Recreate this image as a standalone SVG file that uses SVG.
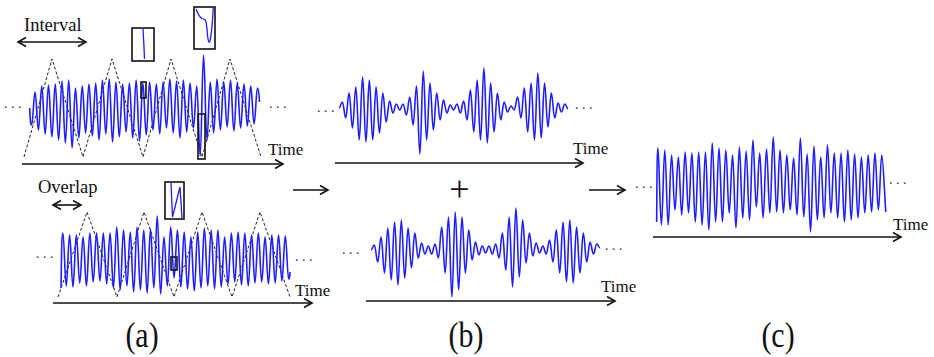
<svg xmlns="http://www.w3.org/2000/svg" width="934" height="357" viewBox="0 0 934 357">
<style>
.sig{fill:none;stroke:#1e1eff;stroke-width:1.6;vector-effect:non-scaling-stroke;stroke-linejoin:round}
.win{fill:none;stroke:#222;stroke-width:1;stroke-dasharray:3 2}
.axis{fill:none;stroke:#111;stroke-width:1.6;marker-end:url(#ah)}
.dbl{fill:none;stroke:#111;stroke-width:1.6;marker-end:url(#ah);marker-start:url(#ah)}
.box{fill:none;stroke:#111;stroke-width:1.6}
.ins{fill:none;stroke:#1e1eff;stroke-width:1.3}
.t{font-family:"Liberation Serif","Times New Roman",serif;fill:#111}
.tm{font-size:17px}
.lab{font-size:34px}
.dots{font-family:"Liberation Serif",serif;font-size:14px;fill:#333}
</style>
<defs>
<marker id="ah" markerUnits="userSpaceOnUse" markerWidth="12" markerHeight="12" refX="9" refY="5" orient="auto-start-reverse">
<path d="M1,0.5 L9,5 L1,9.5" fill="none" stroke="#111" stroke-width="1.6"/>
</marker>
</defs>
<rect width="934" height="357" fill="#fff"/>

<g id="panel-a-top">
<text class="t" x="24" y="31" font-size="18.5">Interval</text>
<line class="dbl" x1="18" y1="42" x2="86" y2="42"/>
<polyline class="win" points="24,157 52,59 83,157 112,59 143,157 171,59 202,157 230,59 261,157"/>
<g transform="translate(28.3,0) scale(3.37,1)">
<path class="sig" d="M0.4,108 C0.6,120 0.6,125 1,125 S1.6,92 2,92 S2.6,130 3,130 S3.6,86 4,86 S4.6,134 5,134 S5.6,85 6,85 S6.6,137 7,137 S7.6,84 8,84 S8.6,140 9,140 S9.6,81 10,81 S10.6,143 11,143 S11.6,80 12,80 S12.6,148 13,148 S13.6,88 14,88 S14.6,138 15,138 S15.6,86 16,86 S16.6,133 17,133 S17.6,84 18,84 S18.6,136 19,136 S19.6,83 20,83 S20.6,140 21,140 S21.6,80 22,80 S22.6,134 23,134 S23.6,79 24,79 S24.6,142 25,142 S25.6,82 26,82 S26.6,137 27,137 S27.6,84 28,84 S28.6,132 29,132 S29.6,83 30,83 S30.6,138 31,138 S31.6,80 32,80 S32.6,141 33,141 S33.6,83 34,83 S34.6,135 35,135 S35.6,82 36,82 S36.6,130 37,130 S37.6,84 38,84 S38.6,134 39,134 S39.6,82 40,82 S40.6,128 41,128 S41.6,79 42,79 S42.6,133 43,133 S43.6,81 44,81 S44.6,138 45,138 S45.6,80 46,80 S46.6,132 47,132 S47.6,83 48,83 S48.6,128 49,128 S49.6,86 50,86 S50.6,156 51,156 S51.6,55 52,55 S52.6,140 53,140 S53.6,82 54,82 S54.6,133 55,133 S55.6,79 56,79 S56.6,130 57,130 S57.6,82 58,82 S58.6,127 59,127 S59.6,80 60,80 S60.6,131 61,131 S61.6,83 62,83 S62.6,128 63,128 S63.6,84 64,84 S64.6,126 65,126 S65.6,86 66,86 S66.6,124 67,124 S67.6,88 68,88 S68.5,96 68.6,102"/>
</g>
<rect class="box" x="141" y="82" width="5" height="16"/>
<rect class="box" x="198" y="114" width="7" height="45"/>
<rect class="box" x="132" y="28" width="22" height="33"/>
<path class="ins" d="M143,29 Q144,45 144.5,59"/>
<rect class="box" x="194" y="7" width="21" height="42"/>
<path class="ins" d="M196,9 Q199,17 202,18.5 L205,19.5 Q206.5,21 207.5,35 Q208.5,45 210,41 Q212,32 213.3,8"/>
<text class="dots" x="4" y="108">. . .</text>
<text class="dots" x="269" y="108">. . .</text>
<text class="t tm" x="268" y="154.5">Time</text>
<line class="axis" x1="22" y1="164" x2="283" y2="164"/>
</g>

<g id="panel-a-bottom">
<text class="t" x="38" y="193" font-size="18.5">Overlap</text>
<line class="dbl" x1="53" y1="205" x2="81" y2="205"/>
<polyline class="win" points="58,297 87,212 117,297 144,212 174,297 202,212 232,297 260,212 290,297"/>
<g transform="translate(59.5,0) scale(3.37,1)">
<path class="sig" d="M0.45,288 C0.6,262 0.6,233 1,233 S1.6,286 2,286 S2.6,235 3,235 S3.6,287 4,287 S4.6,235 5,235 S5.6,283 6,283 S6.6,237 7,237 S7.6,286 8,286 S8.6,233 9,233 S9.6,282 10,282 S10.6,233 11,233 S11.6,281 12,281 S12.6,233 13,233 S13.6,284 14,284 S14.6,233 15,233 S15.6,288 16,288 S16.6,227 17,227 S17.6,290 18,290 S18.6,230 19,230 S19.6,286 20,286 S20.6,232 21,232 S21.6,292 22,292 S22.6,227 23,227 S23.6,290 24,290 S24.6,230 25,230 S25.6,293 26,293 S26.6,229 27,229 S27.6,288 28,288 S28.6,216 29,216 S29.6,294 30,294 S30.6,237 31,237 S31.6,286 32,286 S32.6,227 33,227 S33.6,278 34,278 S34.6,230 35,230 S35.6,287 36,287 S36.6,232 37,232 S37.6,289 38,289 S38.6,237 39,237 S39.6,291 40,291 S40.6,232 41,232 S41.6,288 42,288 S42.6,228 43,228 S43.6,286 44,286 S44.6,230 45,230 S45.6,289 46,289 S46.6,230 47,230 S47.6,287 48,287 S48.6,237 49,237 S49.6,284 50,284 S50.6,233 51,233 S51.6,282 52,282 S52.6,232 53,232 S53.6,285 54,285 S54.6,233 55,233 S55.6,286 56,286 S56.6,235 57,235 S57.6,283 58,283 S58.6,233 59,233 S59.6,282 60,282 S60.6,237 61,237 S61.6,284 62,284 S62.6,235 63,235 S63.6,283 64,283 S64.6,235 65,235 S65.6,281 66,281 S66.6,236 67,236 S67.6,279 68,279 S68.3,275 68.4,272"/>
</g>
<rect class="box" x="171" y="257" width="6" height="13"/>
<rect class="box" x="165" y="182" width="19" height="37"/>
<path class="ins" d="M171,183 L172.5,217 L180,187 L182,218"/>
<text class="dots" x="36" y="258">. . .</text>
<text class="dots" x="295" y="261">. . .</text>
<text class="t tm" x="295" y="295.5">Time</text>
<line class="axis" x1="53" y1="303" x2="312" y2="303"/>
</g>

<g id="panel-b-top">
<g transform="translate(339,0) scale(3.37,1)">
<path class="sig" d="M0,108 C0.4,108 0.6,102 1,102 S1.6,118 2,118 S2.6,93 3,93 S3.6,128 4,128 S4.6,87 5,87 S5.6,140 6,140 S6.6,77 7,77 S7.6,142 8,142 S8.6,80 9,80 S9.6,140 10,140 S10.6,87 11,87 S11.6,133 12,133 S12.6,93 13,93 S13.6,122 14,122 S14.6,101 15,101 S15.6,113 16,113 S16.6,104 17,104 S17.6,110 18,110 S18.6,104 19,104 S19.6,115 20,115 S20.6,97 21,97 S21.6,125 22,125 S22.6,86 23,86 S23.6,154 24,154 S24.6,71 25,71 S25.6,140 26,140 S26.6,83 27,83 S27.6,130 28,130 S28.6,93 29,93 S29.6,120 30,120 S30.6,100 31,100 S31.6,113 32,113 S32.6,105 33,105 S33.6,110 34,110 S34.6,104 35,104 S35.6,113 36,113 S36.6,101 37,101 S37.6,120 38,120 S38.6,90 39,90 S39.6,132 40,132 S40.6,80 41,80 S41.6,140 42,140 S42.6,68 43,68 S43.6,143 44,143 S44.6,83 45,83 S45.6,132 46,132 S46.6,93 47,93 S47.6,120 48,120 S48.6,102 49,102 S49.6,112 50,112 S50.6,106 51,106 S51.6,110 52,110 S52.6,97 53,97 S53.6,118 54,118 S54.6,88 55,88 S55.6,132 56,132 S56.6,83 57,83 S57.6,140 58,140 S58.6,73 59,73 S59.6,138 60,138 S60.6,83 61,83 S61.6,127 62,127 S62.6,93 63,93 S63.6,118 64,118 S64.6,103 65,103 S65.6,112 66,112 S66.6,104 67,104 S67.6,109 68,109"/>
</g>
<text class="dots" x="317" y="112">. . .</text>
<text class="dots" x="575" y="109">. . .</text>
<text class="t tm" x="573" y="154">Time</text>
<line class="axis" x1="335" y1="163" x2="583" y2="163"/>
</g>

<g id="panel-b-bottom">
<g transform="translate(371,0) scale(3.37,1)">
<path class="sig" d="M0,250 C0.4,250 0.6,245 1,245 S1.6,262 2,262 S2.6,237 3,237 S3.6,273 4,273 S4.6,228 5,228 S5.6,280 6,280 S6.6,222 7,222 S7.6,285 8,285 S8.6,220 9,220 S9.6,278 10,278 S10.6,228 11,228 S11.6,268 12,268 S12.6,233 13,233 S13.6,258 14,258 S14.6,243 15,243 S15.6,254 16,254 S16.6,246 17,246 S17.6,254 18,254 S18.6,244 19,244 S19.6,258 20,258 S20.6,227 21,227 S21.6,273 22,273 S22.6,217 23,217 S23.6,297 24,297 S24.6,212 25,212 S25.6,290 26,290 S26.6,217 27,217 S27.6,273 28,273 S28.6,230 29,230 S29.6,260 30,260 S30.6,242 31,242 S31.6,255 32,255 S32.6,246 33,246 S33.6,253 34,253 S34.6,246 35,246 S35.6,254 36,254 S36.6,244 37,244 S37.6,258 38,258 S38.6,233 39,233 S39.6,270 40,270 S40.6,217 41,217 S41.6,287 42,287 S42.6,208 43,208 S43.6,277 44,277 S44.6,220 45,220 S45.6,263 46,263 S46.6,233 47,233 S47.6,256 48,256 S48.6,243 49,243 S49.6,253 50,253 S50.6,246 51,246 S51.6,254 52,254 S52.6,240 53,240 S53.6,262 54,262 S54.6,230 55,230 S55.6,273 56,273 S56.6,222 57,222 S57.6,282 58,282 S58.6,220 59,220 S59.6,283 60,283 S60.6,227 61,227 S61.6,273 62,273 S62.6,233 63,233 S63.6,262 64,262 S64.6,242 65,242 S65.6,254 66,254 S66.6,244 67,244 S67.6,248 68,248"/>
</g>
<text class="dots" x="342" y="254">. . .</text>
<text class="dots" x="605" y="250">. . .</text>
<text class="t tm" x="601" y="291.5">Time</text>
<line class="axis" x1="366" y1="301" x2="615" y2="301"/>
</g>

<g id="plus">
<text class="t" x="459.5" y="201" font-size="36" text-anchor="middle">+</text>
</g>

<g id="panel-c">
<g transform="translate(658,0) scale(3.39,1)">
<path class="sig" d="M-0.4,222 C-0.3,180 -0.3,148 0,148 S0.6,225 1,225 S1.6,150 2,150 S2.6,225 3,225 S3.6,155 4,155 S4.6,210 5,210 S5.6,157 6,157 S6.6,215 7,215 S7.6,152 8,152 S8.6,213 9,213 S9.6,153 10,153 S10.6,222 11,222 S11.6,152 12,152 S12.6,225 13,225 S13.6,152 14,152 S14.6,230 15,230 S15.6,143 16,143 S16.6,222 17,222 S17.6,148 18,148 S18.6,222 19,222 S19.6,150 20,150 S20.6,213 21,213 S21.6,155 22,155 S22.6,228 23,228 S23.6,147 24,147 S24.6,218 25,218 S25.6,151 26,151 S26.6,220 27,220 S27.6,140 28,140 S28.6,207 29,207 S29.6,153 30,153 S30.6,218 31,218 S31.6,149 32,149 S32.6,213 33,213 S33.6,137 34,137 S34.6,212 35,212 S35.6,150 36,150 S36.6,213 37,213 S37.6,155 38,155 S38.6,210 39,210 S39.6,158 40,158 S40.6,215 41,215 S41.6,138 42,138 S42.6,217 43,217 S43.6,154 44,154 S44.6,232 45,232 S45.6,146 46,146 S46.6,220 47,220 S47.6,157 48,157 S48.6,218 49,218 S49.6,145 50,145 S50.6,213 51,213 S51.6,153 52,153 S52.6,218 53,218 S53.6,153 54,153 S54.6,222 55,222 S55.6,150 56,150 S56.6,220 57,220 S57.6,154 58,154 S58.6,218 59,218 S59.6,157 60,157 S60.6,213 61,213 S61.6,155 62,155 S62.6,212 63,212 S63.6,153 64,153 S64.6,210 65,210 S65.6,155 66,155 S66.9,200 67.2,212"/>
</g>
<text class="dots" x="635" y="188">. . .</text>
<text class="dots" x="889" y="184">. . .</text>
<text class="t tm" x="893" y="230">Time</text>
<line class="axis" x1="653" y1="237" x2="901" y2="237"/>
</g>

<g id="connectors">
<line class="axis" x1="293" y1="190" x2="328" y2="190"/>
<line class="axis" x1="589" y1="190" x2="625" y2="190"/>
</g>

<g id="labels">
<text class="t lab" transform="translate(142,347) scale(0.88,1.05)" text-anchor="middle">(a)</text>
<text class="t lab" transform="translate(466,347) scale(0.88,1.05)" text-anchor="middle">(b)</text>
<text class="t lab" transform="translate(778,347) scale(0.88,1.05)" text-anchor="middle">(c)</text>
</g>
</svg>
